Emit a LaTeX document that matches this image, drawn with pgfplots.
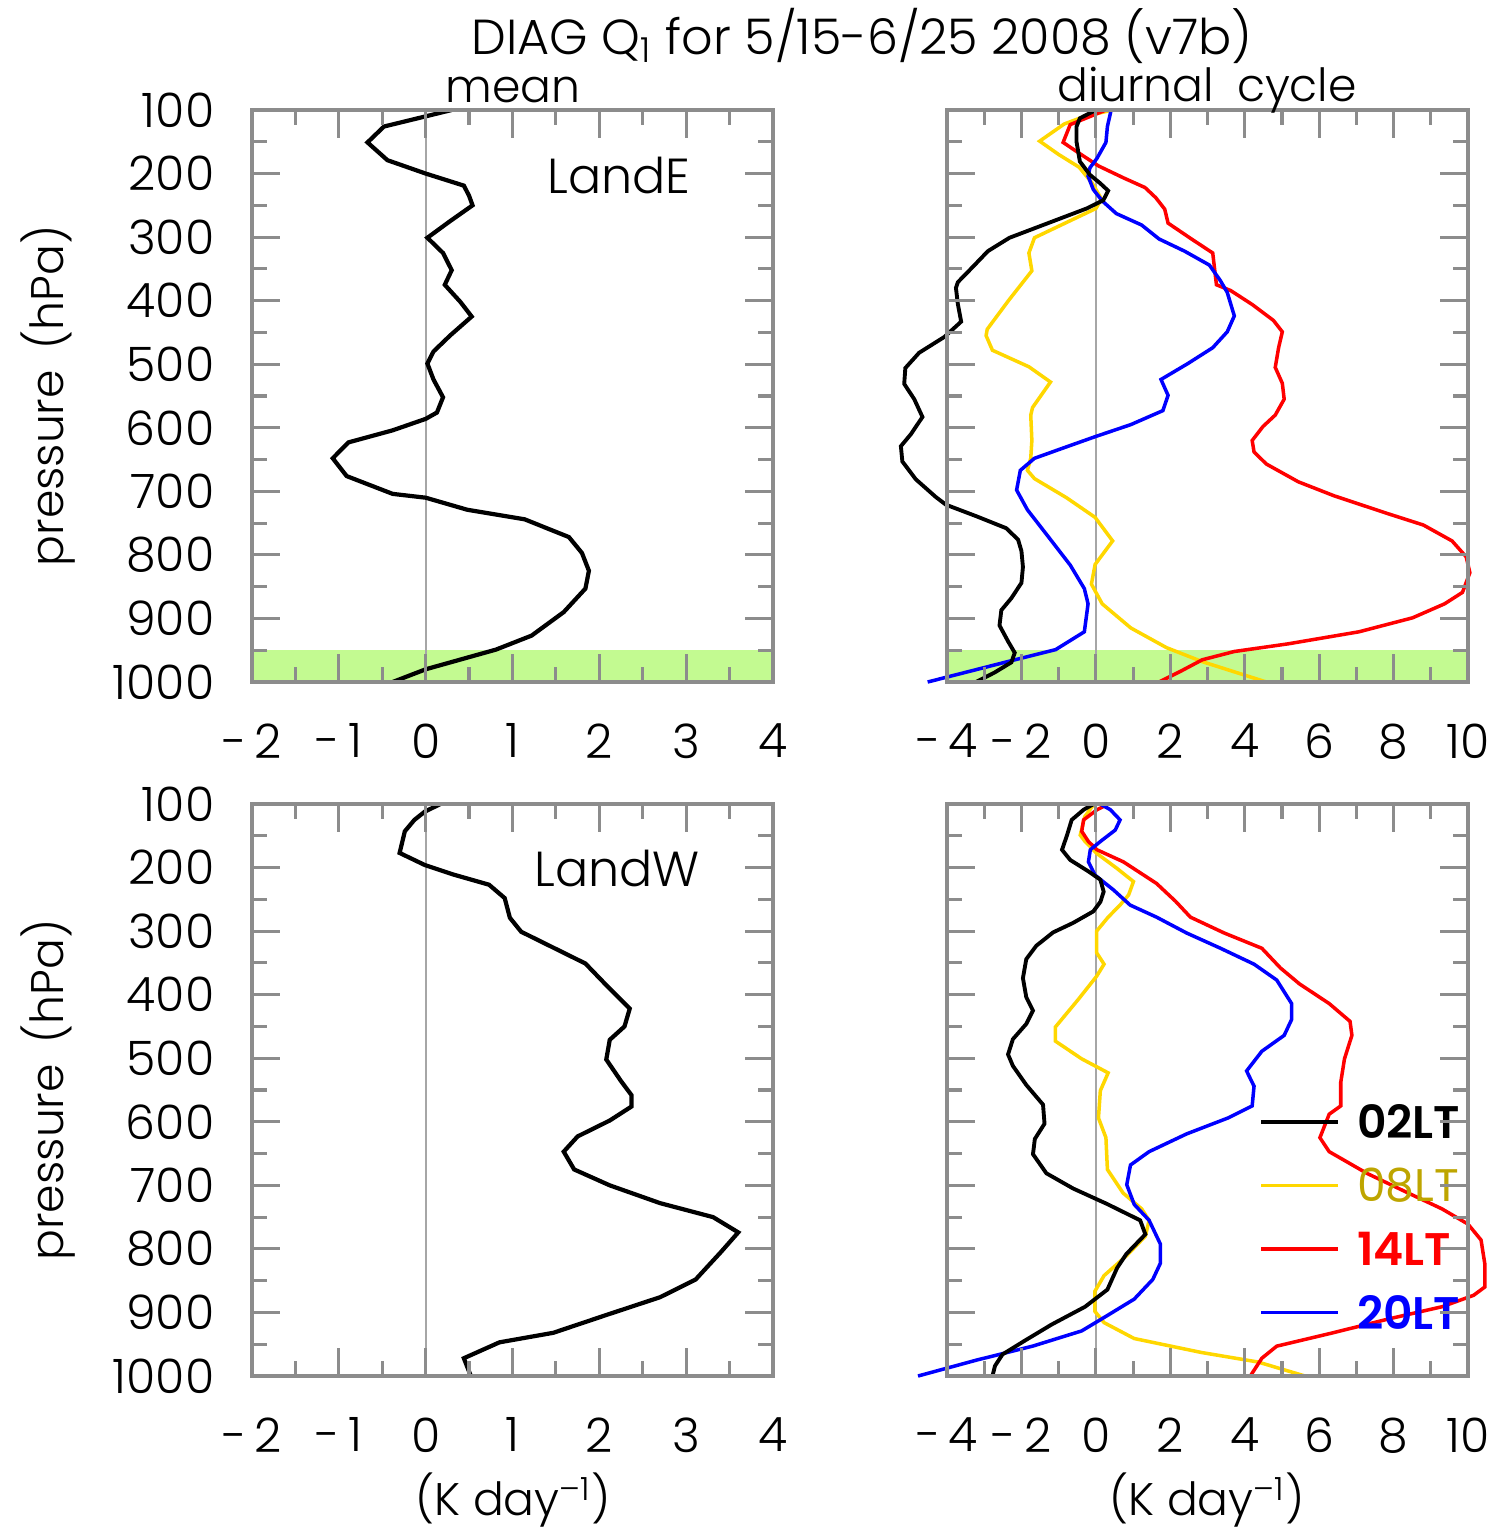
\documentclass[border=0pt]{standalone}
\usepackage{fontspec}
\setmainfont{Poppins}[UprightFont=* Light]
\newfontfamily\popreg{Poppins}
\usepackage{pgfplots}
\pgfplotsset{compat=1.18}

\definecolor{band}{RGB}{195,250,145}
\definecolor{gold}{RGB}{255,215,0}
\definecolor{darkgold}{RGB}{190,165,0}
\definecolor{axgray}{RGB}{140,140,140}

\pgfplotsset{
  prof/.style={
    scale only axis, width=5.21cm, height=5.72cm,
    anchor=south west, clip=false, axis on top,
    y dir=reverse, ymin=100, ymax=1000,
    ytick={100,200,...,1000}, minor ytick={150,250,...,950},
    yticklabels={100,200,300,400,500,600,700,800,900,1000},
    axis line style={draw=axgray, line width=1pt},
    tick style={axgray, line width=0.9pt},
    major tick length=0.28cm, minor tick length=0.15cm,
    tick align=inside,
    ticklabel style={font=\fontsize{13.5}{13.5}\selectfont, inner sep=0pt},
    yticklabel style={anchor=east, xshift=-0.37cm},
    xticklabel style={anchor=north, yshift=-0.41cm},
    /pgf/number format/assume math mode=true,
  },
  meanax/.style={prof, xmin=-2, xmax=4, xtick={-2,-1,...,4}, minor xtick={-1.5,-0.5,...,3.5},
     xticklabels={-\,2,-\,1,0,1,2,3,4}},
  diurax/.style={prof, xmin=-4, xmax=10, xtick={-4,-2,...,10}, minor xtick={-3,-1,...,9},
     xticklabels={-\,4,-\,2,0,2,4,6,8,10}, yticklabels={}},
}

\begin{document}
\begin{tikzpicture}
\useasboundingbox (0,0) rectangle (15.09,-15.28);

% ---------------- top left: LandE mean
\begin{axis}[meanax, at={(2.52cm,-6.82cm)}]
\addplot[fill=band, draw=none] coordinates {(-2,950) (4,950) (4,1000) (-2,1000)} -- cycle;
\addplot[black!35, line width=0.5pt] coordinates {(0,100) (0,1000)};
\addplot[black, line width=1.2pt] coordinates {
(0.30,100) (-0.48,126) (-0.67,151) (-0.44,179) (0.0,200) (0.44,219) (0.50,235) (0.54,250)
(0.28,275) (0.02,301) (0.20,325) (0.30,352) (0.22,375) (0.40,402) (0.53,425) (0.28,455)
(0.09,480) (0.02,499) (0.09,524) (0.20,552) (0.13,576) (0.0,586) (-0.38,604) (-0.89,623)
(-1.07,648) (-0.91,676) (-0.38,704) (0.0,710) (0.48,729) (1.14,744) (1.65,772) (1.80,797)
(1.88,825) (1.84,853) (1.59,890) (1.22,927) (0.81,949) (0.0,980) (-0.38,1000)};
\end{axis}

% ---------------- top right: LandE diurnal
\begin{axis}[diurax, at={(9.47cm,-6.82cm)}]
\addplot[fill=band, draw=none] coordinates {(-4,950) (10,950) (10,1000) (-4,1000)} -- cycle;
\addplot[black!35, line width=0.5pt] coordinates {(0,100) (0,1000)};
% 08LT
\addplot[gold, line width=1pt] coordinates {
(0.45,100) (-0.3,110) (-0.85,122) (-1.51,149) (-1.0,170) (-0.45,190) (-0.1,215) (0.15,240)
(0.0,255) (-0.79,277) (-1.65,301) (-1.80,325) (-1.72,353) (-2.35,400) (-2.92,445) (-2.95,455)
(-2.78,478) (-1.80,504) (-1.22,528) (-1.70,568) (-1.75,580) (-1.72,620) (-1.75,648) (-1.84,667)
(-1.65,680) (-0.79,710) (-0.02,741) (0.45,778) (-0.02,815) (-0.12,846) (0.17,877) (0.94,915)
(1.90,946) (2.86,968) (4.58,1000)};
% 14LT
\addplot[red, line width=1pt] coordinates {
(0.27,100) (-0.69,123) (-0.88,151) (-0.50,166) (0.07,188) (0.75,207) (1.32,222) (1.61,238)
(1.85,256) (1.94,278) (2.57,303) (3.14,325) (3.19,350) (3.24,375) (3.62,384) (4.20,406)
(4.77,431) (5.01,449) (4.91,474) (4.82,505) (5.01,530) (5.06,555) (4.82,580) (4.49,598)
(4.20,620) (4.25,638) (4.58,657) (5.44,685) (6.40,707) (7.84,735) (8.80,753) (9.57,778)
(9.95,803) (10.05,828) (9.85,859) (9.37,877) (8.51,899) (7.07,921) (5.16,940) (3.72,952)
(2.86,965) (2.28,983) (1.70,1000)};
% 20LT
\addplot[blue, line width=1pt] coordinates {
(0.41,100) (0.31,126) (0.27,151) (0.03,176) (-0.16,191) (-0.21,204) (-0.07,225) (0.17,243)
(0.55,263) (1.23,281) (1.70,303) (2.38,322) (3.05,344) (3.34,368) (3.53,387) (3.72,424)
(3.53,449) (3.14,474) (2.47,499) (1.75,524) (1.94,549) (1.80,573) (0.94,595) (-0.02,614)
(-0.79,630) (-1.65,648) (-2.03,667) (-2.13,698) (-1.84,729) (-1.27,772) (-0.69,816) (-0.31,853)
(-0.21,877) (-0.31,921) (-1.08,949) (-2.51,970) (-4.52,1000)};
% 02LT
\addplot[black, line width=1.1pt] coordinates {
(0.0,100) (-0.43,113) (-0.52,126) (-0.52,150) (-0.43,181) (-0.16,202) (0.11,215) (0.33,227)
(0.20,242) (-0.25,255) (-1.06,273) (-1.87,291) (-2.32,301) (-2.90,322) (-3.31,347) (-3.71,371)
(-3.76,380) (-3.71,405) (-3.62,433) (-4.07,457) (-4.75,482) (-5.12,506) (-5.15,531) (-4.88,555)
(-4.66,583) (-4.97,610) (-5.24,629) (-5.20,653) (-4.84,681) (-4.30,709) (-4.03,721) (-3.22,739)
(-2.41,758) (-2.09,776) (-2.00,794) (-1.96,819) (-2.00,844) (-2.27,868) (-2.54,887) (-2.59,911)
(-2.36,936) (-2.18,954) (-2.27,969) (-2.72,985) (-3.22,1000)};
\end{axis}

% ---------------- bottom left: LandW mean
\begin{axis}[meanax, at={(2.52cm,-13.76cm)}]
\addplot[black!35, line width=0.5pt] coordinates {(0,100) (0,1000)};
\addplot[black, line width=1.2pt] coordinates {
(0.17,100) (-0.01,112) (-0.13,125) (-0.24,143) (-0.30,177) (-0.01,196) (0.32,211) (0.73,227)
(0.91,248) (0.97,279) (1.10,301) (1.47,326) (1.84,351) (2.08,385) (2.35,422) (2.29,450)
(2.12,471) (2.08,502) (2.25,536) (2.37,558) (2.37,576) (2.12,598) (1.75,623) (1.59,647)
(1.71,675) (2.12,700) (2.70,728) (3.31,750) (3.60,774) (3.40,805) (3.11,848) (2.70,876)
(2.08,904) (1.47,932) (0.85,947) (0.44,972) (0.52,1000)};
\end{axis}

% ---------------- bottom right: LandW diurnal
\begin{axis}[diurax, at={(9.47cm,-13.76cm)}]
\addplot[black!35, line width=0.5pt] coordinates {(0,100) (0,1000)};
% 08LT
\addplot[gold, line width=1pt] coordinates {
(-0.05,100) (-0.30,120) (-0.42,149) (-0.29,159) (0.03,178) (0.56,201) (1.01,222) (0.88,243)
(0.65,259) (0.33,278) (0.02,300) (0.02,334) (0.22,352) (0.02,371) (-0.48,408) (-1.09,451)
(-1.09,473) (-0.38,501) (0.33,523) (0.12,551) (0.07,594) (0.27,625) (0.31,675) (0.73,712)
(1.23,737) (1.43,755) (1.33,780) (0.82,811) (0.22,842) (-0.03,867) (-0.03,898) (0.22,916)
(1.03,941) (2.84,963) (4.36,978) (5.62,1000)};
% 14LT
\addplot[red, line width=1pt] coordinates {
(0.34,100) (0.03,109) (-0.33,125) (-0.38,143) (-0.20,159) (0.03,172) (0.74,191) (1.63,225)
(2.14,253) (2.54,278) (3.45,303) (4.46,327) (4.96,358) (5.47,383) (6.27,414) (6.83,442)
(6.88,464) (6.68,501) (6.58,538) (6.58,575) (6.27,588) (6.02,625) (6.27,647) (7.28,681)
(8.39,712) (9.30,737) (10.0,761) (10.35,786) (10.45,823) (10.45,860) (10.15,873) (9.30,891)
(7.88,910) (6.37,932) (4.86,953) (4.46,972) (4.15,1000)};
% 20LT
\addplot[blue, line width=1pt] coordinates {
(0.12,100) (0.39,109) (0.65,125) (0.52,141) (0.12,159) (-0.15,172) (-0.20,191) (-0.02,212)
(0.47,235) (0.92,259) (1.63,278) (2.44,303) (3.35,327) (4.25,352) (4.86,377) (5.26,414)
(5.26,439) (5.06,464) (4.46,489) (4.05,520) (4.25,544) (4.20,575) (3.55,594) (2.44,619)
(1.43,647) (0.93,668) (0.83,699) (1.03,730) (1.43,755) (1.73,792) (1.73,823) (1.53,848)
(1.03,879) (0.33,904) (-0.38,929) (-1.70,953) (-3.21,975) (-4.78,1000)};
% 02LT
\addplot[black, line width=1.1pt] coordinates {
(-0.06,100) (-0.33,109) (-0.65,125) (-0.78,150) (-0.91,172) (-0.69,188) (-0.20,206) (0.12,219)
(0.21,238) (0.12,254) (-0.07,269) (-0.61,287) (-1.15,302) (-1.60,323) (-1.87,344) (-1.96,374)
(-1.87,404) (-1.69,425) (-1.87,446) (-2.23,470) (-2.36,494) (-2.23,512) (-1.87,542) (-1.42,573)
(-1.38,603) (-1.64,627) (-1.69,651) (-1.33,681) (-0.61,705) (0.29,729) (1.19,755) (1.33,777)
(0.82,808) (0.57,830) (0.31,864) (-0.29,891) (-1.19,919) (-1.90,944) (-2.51,966) (-2.71,984)
(-2.78,1000)};
% legend
\addplot[black, line width=1pt] coordinates {(4.45,600) (6.5,600)};
\addplot[gold, line width=1pt] coordinates {(4.45,700) (6.5,700)};
\addplot[red, line width=1pt] coordinates {(4.45,800) (6.5,800)};
\addplot[blue, line width=1pt] coordinates {(4.45,900) (6.5,900)};
\node[anchor=west, inner sep=0pt, font=\fontsize{13}{13}\selectfont\bfseries, text=black] at (axis cs:7.0,600) {02LT};
\node[anchor=west, inner sep=0pt, font=\fontsize{13}{13}\selectfont\popreg, text=darkgold] at (axis cs:7.0,700) {08LT};
\node[anchor=west, inner sep=0pt, font=\fontsize{13}{13}\selectfont\bfseries, text=red] at (axis cs:7.0,800) {14LT};
\node[anchor=west, inner sep=0pt, font=\fontsize{13}{13}\selectfont\bfseries, text=blue] at (axis cs:7.0,900) {20LT};
\end{axis}

% ---------------- texts
\node[font=\fontsize{14}{14}\selectfont] at (8.62,-0.36) {DIAG Q\textsubscript{1} for 5/15-6/25 2008 (v7b)};
\node[font=\fontsize{13}{13}\selectfont] at (5.13,-0.90) {mean};
\node[font=\fontsize{13}{13}\selectfont] at (12.07,-0.90) {diurnal\hspace{0.5em}cycle};
\node[font=\fontsize{14}{14}\selectfont] at (6.19,-1.76) {LandE};
\node[font=\fontsize{14}{14}\selectfont] at (6.17,-8.68) {LandW};
\node[font=\fontsize{13}{13}\selectfont, rotate=90] at (0.48,-3.96) {pressure\hspace{0.45em}(hPa)};
\node[font=\fontsize{13}{13}\selectfont, rotate=90] at (0.48,-10.90) {pressure\hspace{0.45em}(hPa)};
\node[font=\fontsize{13}{13}\selectfont] at (5.13,-15.00) {(K day\textsuperscript{--1})};
\node[font=\fontsize{13}{13}\selectfont] at (12.07,-15.00) {(K day\textsuperscript{--1})};
\end{tikzpicture}
\end{document}
